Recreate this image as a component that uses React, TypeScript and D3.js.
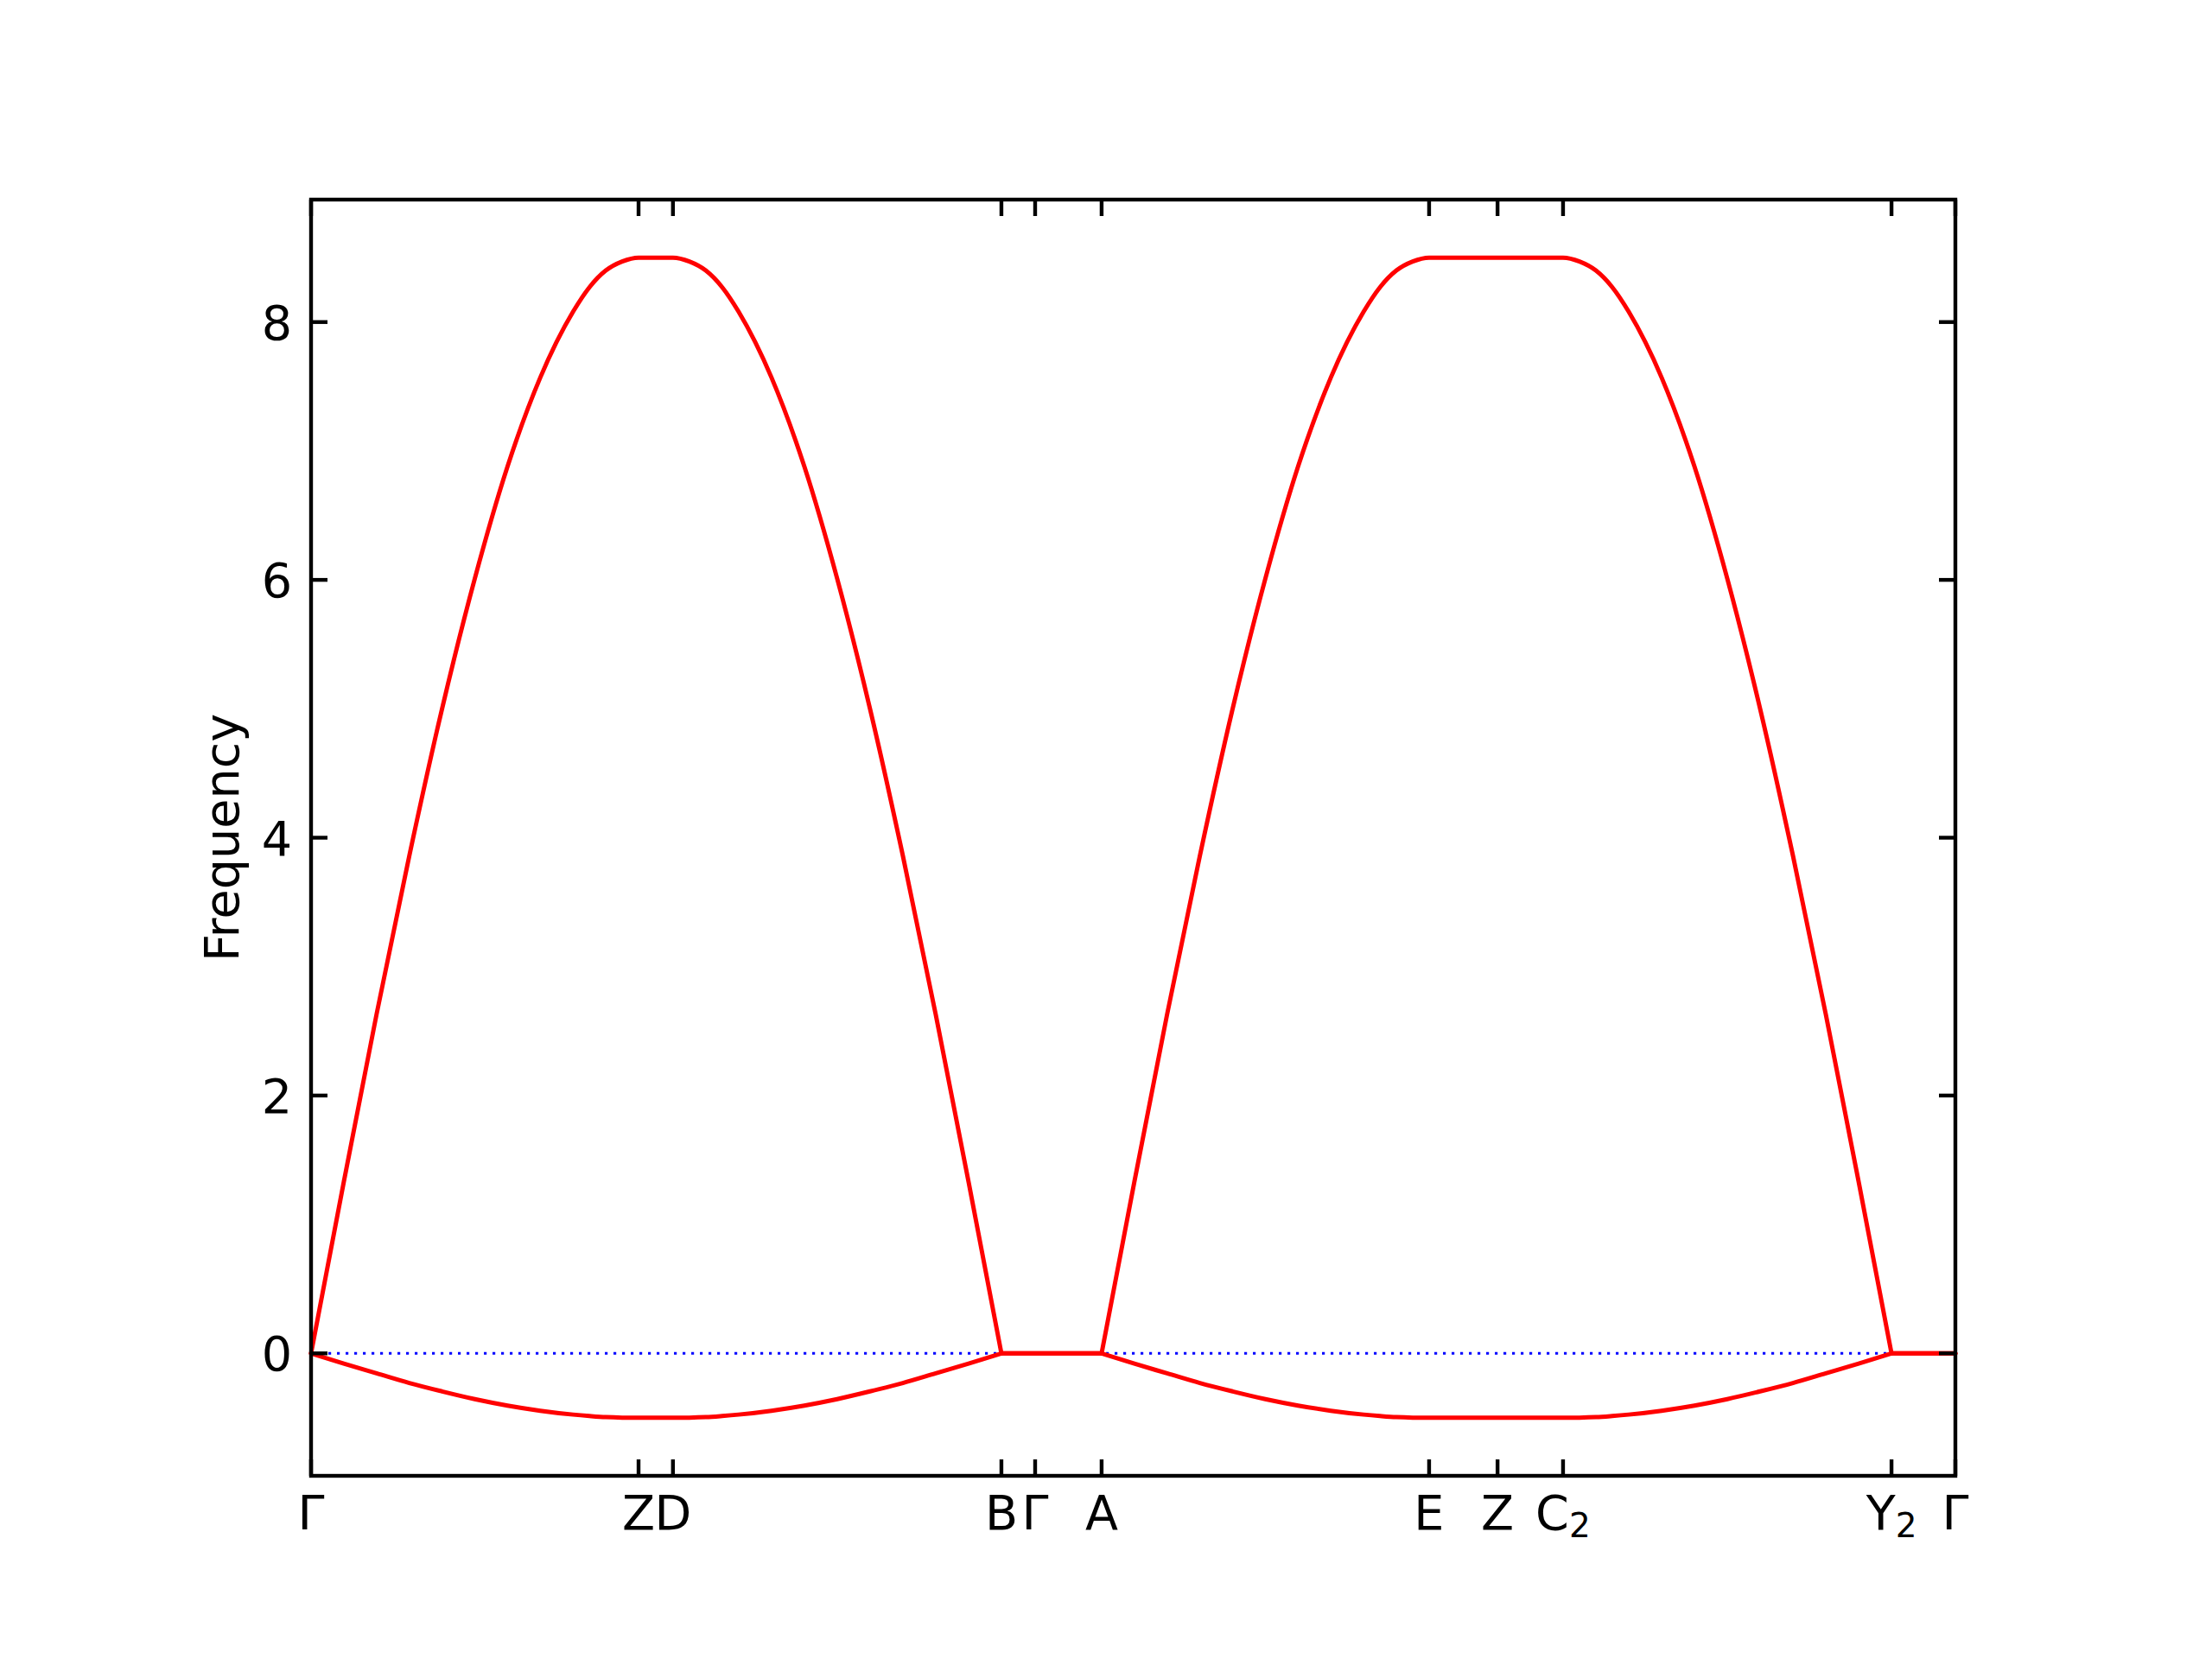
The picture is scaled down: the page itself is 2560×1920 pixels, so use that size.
import React, { useEffect, useRef } from 'react'
import * as d3 from 'd3'

// k-path high-symmetry points (distance along path, label, optional subscript)
const K_POS = [0, 1.0, 1.105, 2.108, 2.211, 2.414, 3.414, 3.623, 3.823, 4.826, 5.021]
const K_LABELS = ['Γ', 'Z', 'D', 'B', 'Γ', 'A', 'E', 'Z', 'C', 'Y', 'Γ']
const K_SUBS = ['', '', '', '', '', '', '', '', '2', '2', '']

const SEG_FRAC = [0, 0.1, 0.2, 0.3, 0.4, 0.5, 0.6, 0.7, 0.8, 0.85, 0.9, 0.95, 1]
const UPPER_RISE = [0, 1.33, 2.63, 3.86, 5.0, 6.01, 6.88, 7.57, 8.08, 8.27, 8.4, 8.47, 8.5]
const LOWER_RISE = [0, -0.08, -0.155, -0.23, -0.295, -0.355, -0.405, -0.445, -0.475, -0.486, -0.495, -0.499, -0.5]

// segment kind between consecutive k-points: rise, flat-top, fall, zero
const SEG_KIND = ['rise', 'top', 'fall', 'zero', 'zero', 'rise', 'top', 'top', 'fall', 'zero']

const Y_TICKS = [0, 2, 4, 6, 8]
const Y_DOMAIN = [-0.95, 8.95]

const W = 2560
const H = 1920
const margin = { left: 360, right: 297, top: 231, bottom: 212 }
const FONT = '"DejaVu Sans", sans-serif'

type Pt = [number, number]

function segmentPoints(i: number, profile: number[]): Pt[] {
  const x0 = K_POS[i]
  const x1 = K_POS[i + 1]
  const kind = SEG_KIND[i]
  const peak = profile[profile.length - 1]
  if (kind === 'top') return [[x0, peak], [x1, peak]]
  if (kind === 'zero') return [[x0, 0], [x1, 0]]
  if (kind === 'rise') {
    return SEG_FRAC.map((f, j) => [x0 + f * (x1 - x0), profile[j]] as Pt)
  }
  // falling branch: mirror image, zero end at x1
  return SEG_FRAC.map((f, j) => [x1 - f * (x1 - x0), profile[j]] as Pt).reverse()
}

// split the band into pieces at the sharp corners (where it meets zero)
function bandPieces(profile: number[]): Pt[][] {
  const pieces: Pt[][] = []
  let cur: Pt[] = []
  SEG_KIND.forEach((kind, i) => {
    const prev = i > 0 ? SEG_KIND[i - 1] : null
    if (prev !== null && (kind === 'zero') !== (prev === 'zero')) {
      pieces.push(cur)
      cur = []
    }
    const pts = segmentPoints(i, profile)
    cur = cur.length ? cur.concat(pts.slice(1)) : pts
  })
  pieces.push(cur)
  return pieces
}

function BandChart() {
  const svgRef = useRef<SVGSVGElement>(null)

  useEffect(() => {
    const svg = svgRef.current
    if (!svg) return
    const sel = d3.select(svg)
    sel.selectAll('*').remove()

    const x0 = margin.left
    const x1 = W - margin.right
    const y0 = margin.top
    const y1 = H - margin.bottom

    const xScale = d3.scaleLinear().domain([K_POS[0], K_POS[K_POS.length - 1]]).range([x0, x1])
    const yScale = d3.scaleLinear().domain(Y_DOMAIN).range([y1, y0])

    // zero reference line
    sel.append('line')
      .attr('x1', xScale(K_POS[0])).attr('x2', xScale(K_POS[K_POS.length - 1]))
      .attr('y1', yScale(0)).attr('y2', yScale(0))
      .attr('stroke', '#0000ff').attr('stroke-width', 2.8)
      .attr('stroke-dasharray', '3.2 6.8')

    // bands
    const line = d3.line<Pt>()
      .x((d) => xScale(d[0]))
      .y((d) => yScale(d[1]))
      .curve(d3.curveMonotoneX)

    ;[UPPER_RISE, LOWER_RISE].forEach((profile) => {
      bandPieces(profile).forEach((pts) => {
        sel.append('path')
          .datum(pts)
          .attr('fill', 'none')
          .attr('stroke', '#ff0000')
          .attr('stroke-width', 5)
          .attr('stroke-linecap', 'round')
          .attr('stroke-linejoin', 'round')
          .attr('d', line)
      })
    })

    // frame
    sel.append('rect')
      .attr('x', x0).attr('y', y0)
      .attr('width', x1 - x0).attr('height', y1 - y0)
      .attr('fill', 'none').attr('stroke', '#000').attr('stroke-width', 4.4)

    const tickLen = 19
    // y ticks (inward, both sides)
    Y_TICKS.forEach((t) => {
      const y = yScale(t)
      sel.append('line').attr('x1', x0).attr('x2', x0 + tickLen).attr('y1', y).attr('y2', y)
        .attr('stroke', '#000').attr('stroke-width', 4.4)
      sel.append('line').attr('x1', x1).attr('x2', x1 - tickLen).attr('y1', y).attr('y2', y)
        .attr('stroke', '#000').attr('stroke-width', 4.4)
      sel.append('text')
        .attr('x', x0 - 22).attr('y', y + 20)
        .attr('text-anchor', 'end')
        .style('font-family', FONT).style('font-size', '55.6px')
        .text(String(t))
    })

    // x ticks (inward, top and bottom)
    K_POS.forEach((k, i) => {
      const x = xScale(k)
      sel.append('line').attr('x1', x).attr('x2', x).attr('y1', y1).attr('y2', y1 - tickLen)
        .attr('stroke', '#000').attr('stroke-width', 4.4)
      sel.append('line').attr('x1', x).attr('x2', x).attr('y1', y0).attr('y2', y0 + tickLen)
        .attr('stroke', '#000').attr('stroke-width', 4.4)
      const txt = sel.append('text')
        .attr('x', x).attr('y', y1 + 62)
        .attr('text-anchor', 'middle')
        .style('font-family', FONT).style('font-size', '55.6px')
      txt.append('tspan').text(K_LABELS[i])
      if (K_SUBS[i]) {
        txt.append('tspan').attr('dy', 9).style('font-size', '39px').text(K_SUBS[i])
      }
    })

    // y axis label
    sel.append('text')
      .attr('transform', `translate(276,${(y0 + y1) / 2}) rotate(-90)`)
      .attr('text-anchor', 'middle')
      .style('font-family', FONT).style('font-size', '55.6px')
      .text('Frequency')
  }, [])

  return (
    <svg
      ref={svgRef}
      width={W}
      height={H}
      style={{ position: 'absolute', left: 0, top: 0, background: '#fff', display: 'block' }}
    />
  )
}

export default function App() {
  return <BandChart />
}
